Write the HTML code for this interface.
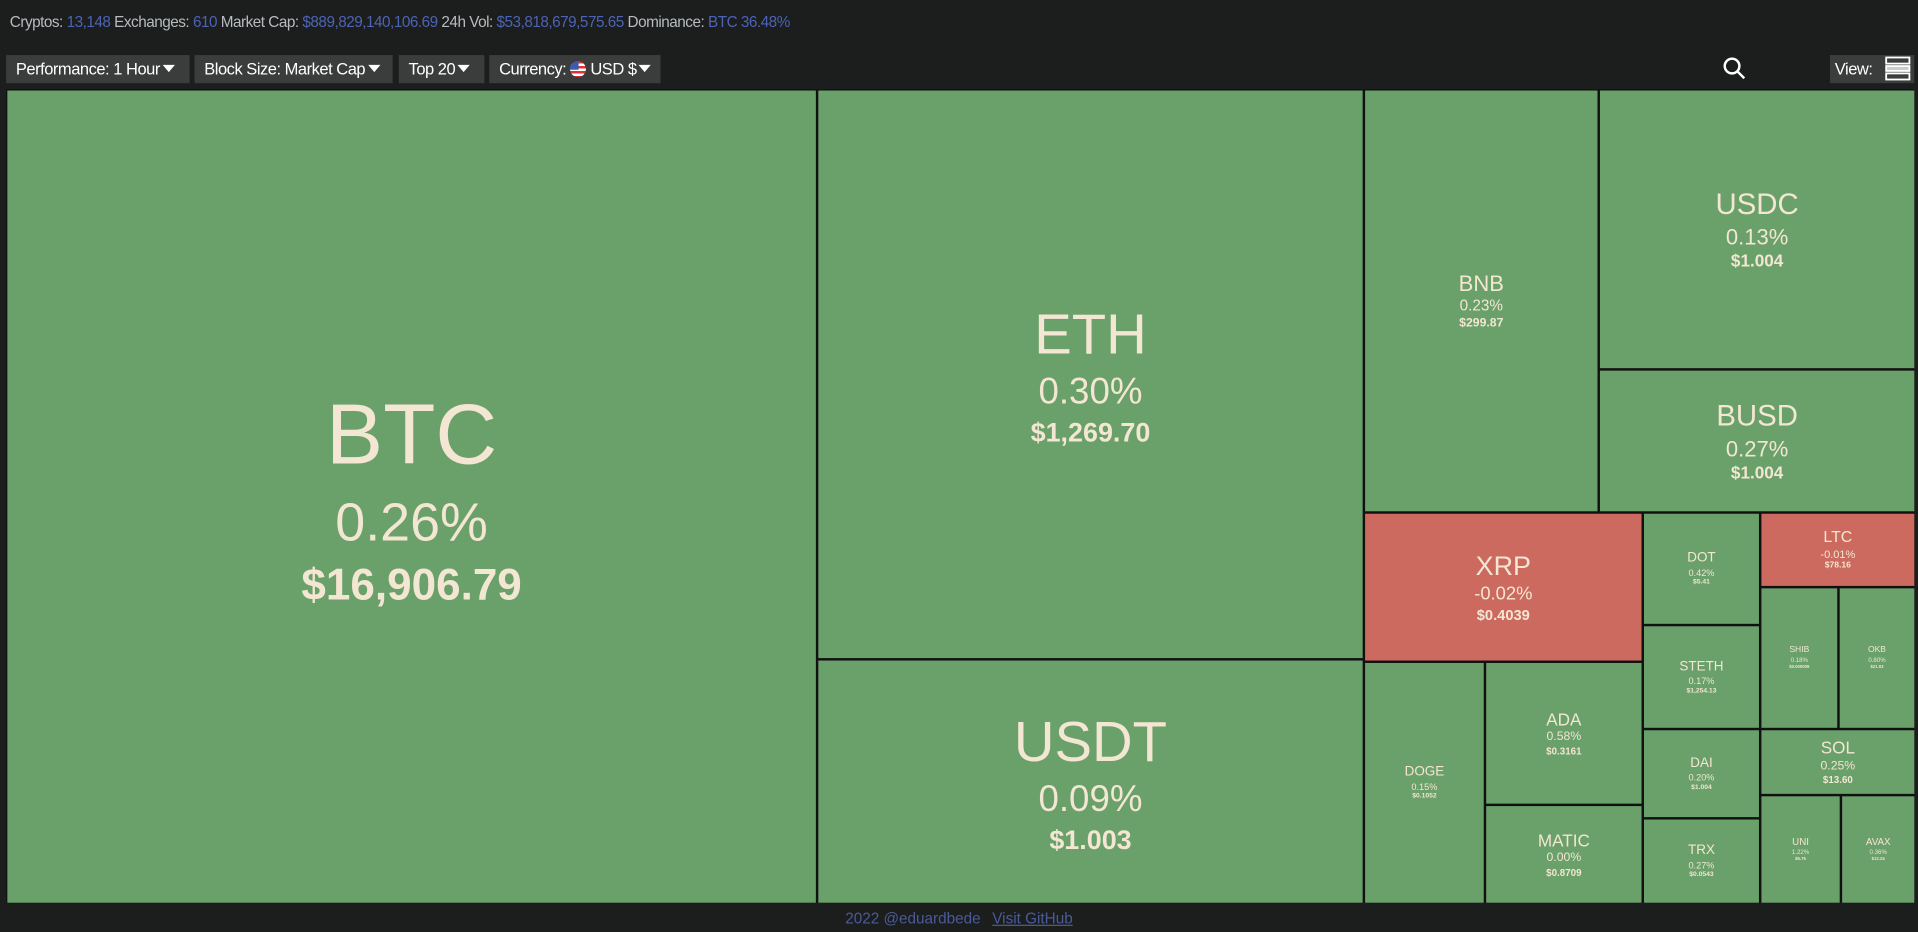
<!DOCTYPE html>
<html><head><meta charset="utf-8">
<style>
html,body{margin:0;padding:0;background:#1c1e1d;width:1918px;height:932px;overflow:hidden;font-family:"Liberation Sans",sans-serif}
#wrap{position:absolute;left:0;top:0;width:1568px;height:762px;transform:scale(1.2232);transform-origin:0 0}
#stats{position:absolute;left:8px;top:11px;font-size:12.5px;letter-spacing:-0.4px;color:#b8bcc0;white-space:nowrap}
#stats .v{color:#4c63b6}
.btn{position:absolute;top:45px;height:23px;background:#3a3d3c;color:#fff;font-size:13.5px;letter-spacing:-0.4px;line-height:23px;padding:0 8px;box-sizing:border-box;white-space:nowrap}
.tri{display:inline-block;width:0;height:0;border-left:5px solid transparent;border-right:5px solid transparent;border-top:6px solid #fff;margin-left:2px;vertical-align:2px}
#map{position:absolute;left:5px;top:73px;width:1560px;height:665px;background:#111}
.tile{position:absolute;box-sizing:border-box;display:flex;flex-direction:column;align-items:center;justify-content:center;color:#f3e6d2;text-align:center;line-height:1.25}
#footer{position:absolute;top:744px;left:0;width:1568px;text-align:center;font-size:12.5px;color:#4a5a9a}
#footer a{color:#4a5a9a;text-decoration:underline;margin-left:6px}
</style></head><body>
<div id="wrap">
<div id="stats">Cryptos: <span class="v">13,148</span> Exchanges: <span class="v">610</span> Market Cap: <span class="v">$889,829,140,106.69</span> 24h Vol: <span class="v">$53,818,679,575.65</span> Dominance: <span class="v">BTC 36.48%</span></div>
<div class="btn" style="left:5px;width:150px">Performance: 1 Hour<span class="tri"></span></div>
<div class="btn" style="left:159px;width:162px">Block Size: Market Cap<span class="tri"></span></div>
<div class="btn" style="left:326px;width:70px">Top 20<span class="tri"></span></div>
<div class="btn" style="left:400px;width:140px">Currency: <span style="display:inline-block;width:13px;height:13px;border-radius:50%;background:repeating-linear-gradient(#d33 0 2px,#fff 2px 4px);position:relative;vertical-align:-2px;overflow:hidden"><span style="position:absolute;left:0;top:0;width:7px;height:7px;background:#3c5bb0"></span></span> USD $<span class="tri"></span></div>
<svg style="position:absolute;left:1408px;top:46px" width="20" height="20"><circle cx="8" cy="8" r="6" fill="none" stroke="#fff" stroke-width="2"/><line x1="12.5" y1="12.5" x2="18" y2="18" stroke="#fff" stroke-width="2"/></svg>
<div class="btn" style="left:1496px;width:69px;padding:0 4px">View:<svg width="22" height="20" style="position:absolute;right:2px;top:1px"><rect x="1" y="1" width="19" height="5" fill="none" stroke="#fff" stroke-width="1.5"/><rect x="1" y="8" width="19" height="4" fill="#ccc" stroke="#fff" stroke-width="1.5"/><rect x="1" y="14" width="19" height="5" fill="none" stroke="#fff" stroke-width="1.5"/></svg></div>
<div id="map"></div>
<div id="footer">2022 @eduardbede <a>Visit GitHub</a></div>
</div>
<script>
const symbols=["BTC","ETH","USDT","BNB","USDC","BUSD","XRP","DOT","STETH","LTC","SHIB","OKB","DOGE","ADA","MATIC","DAI","TRX","SOL","UNI","AVAX"];
const changes=[0.26,0.30,0.09,0.23,0.13,0.27,-0.02,0.42,0.17,-0.01,0.18,0.80,0.15,0.58,0.00,0.20,0.27,0.25,1.22,0.36];
const prices=["$16,906.79","$1,269.70","$1.003","$299.87","$1.004","$1.004","$0.4039","$5.41","$1,254.13","$78.16","$0.000009","$21.03","$0.1052","$0.3161","$0.8709","$1.004","$0.0543","$13.60","$5.75","$12.24"];
// layout boxes (x0,y0,x1,y1 in map px) and font sizes - layout, not data
const boxes=[[0,0,662,665],[663,0,1109,465],[663,466,1109,665],[1110,0,1301,345],[1302,0,1560,228],[1302,229,1560,345],[1110,346,1337,467],[1338,346,1433,437],[1338,438,1433,522],[1434,346,1560,406],[1434,407,1497,522],[1498,407,1560,522],[1110,468,1208,665],[1209,468,1337,584],[1209,585,1337,665],[1338,523,1433,595],[1338,596,1433,665],[1434,523,1560,576],[1434,577,1499,665],[1500,577,1560,665]];
const fonts=[[70,44,36],[46,30,22],[46,30,22],[18,12.5,10],[24,18,14],[24,18,14],[22,15,12],[11,7.5,5.5],[11,7.5,5.5],[13,9,7],[7,5,3.5],[7,5,3.5],[11,7.5,5.5],[14,10,8],[14,10,8],[11,7.5,5.5],[11,7.5,5.5],[14,10,8],[8,5,3.5],[8,5,3.5]];
const map=document.getElementById('map');
symbols.forEach((s,i)=>{
  const b=boxes[i],f=fonts[i];
  const t=document.createElement('div');
  t.className='tile';
  
  
  t.style.left=(b[0]+1)+'px';t.style.top=(b[1]+1)+'px';
  t.style.width=(b[2]-b[0]-1)+'px';t.style.height=(b[3]-b[1]-1)+'px';
  t.style.background=changes[i]<0?'#cc6a60':'#6aa06a';
  const n=document.createElement('div');n.textContent=s;n.style.fontSize=f[0]+'px';
  
  
  const p=document.createElement('div');p.textContent=changes[i].toFixed(2)+'%';p.style.fontSize=f[1]+'px';
  
  
  const v=document.createElement('div');v.textContent=prices[i];v.style.fontSize=f[2]+'px';v.style.fontWeight='bold';
  
  
  t.appendChild(n);t.appendChild(p);t.appendChild(v);
  map.appendChild(t);
});
</script>
</body></html>
